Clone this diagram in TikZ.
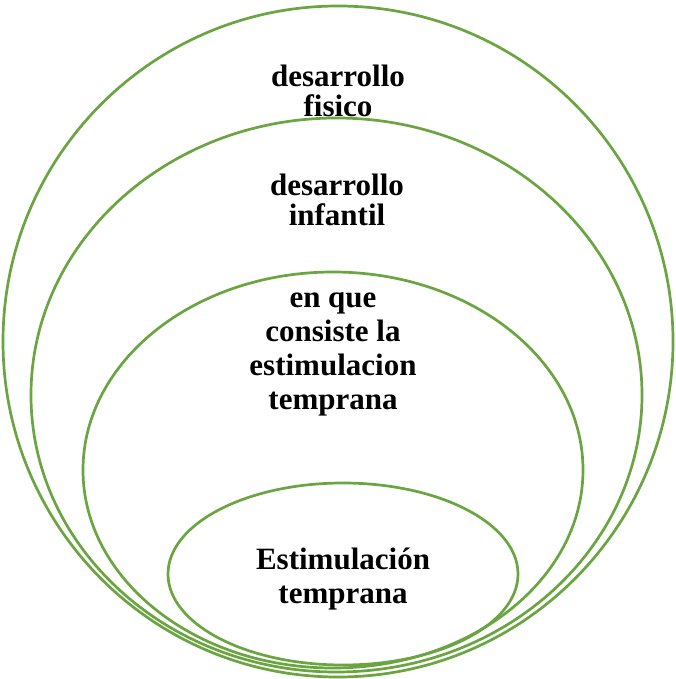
\documentclass[tikz,border=0pt]{standalone}
\usepackage{fontspec}
\setmainfont{Liberation Serif}
\usetikzlibrary{shapes.geometric}

\begin{document}
\begin{tikzpicture}[x=1pt, y=-1pt,
ring/.style = {shape = ellipse, draw = ringgreen, line width = 2.7pt, inner sep = 0pt},
tag/.style = {align = center, font = \fontsize{31}{34}\selectfont\bfseries, inner sep = 0pt},
tagtight/.style = {tag, font = \fontsize{31}{30}\selectfont\bfseries},
]
\definecolor{ringgreen}{RGB}{106,165,65}
\useasboundingbox (0,0) rectangle (675,679);

\node[ring, minimum width = 670pt, minimum height = 671pt] (R1) at (338, 341.5) {};
\node[ring, minimum width = 611pt, minimum height = 554pt] (R2) at (336.5, 395) {};
\node[ring, minimum width = 500pt, minimum height = 396pt] (R3) at (333, 470) {};
\node[ring, minimum width = 350pt, minimum height = 182pt] (R4) at (343, 574) {};

\node[tagtight] (T1) at (338, 91) {desarrollo\\fisico};
\node[tagtight] (T2) at (337, 200) {desarrollo\\infantil};
\node[tag] (T3) at (333, 354) {en que\\consiste la\\estimulacion\\temprana};
\node[tag] (T4) at (343, 579) {Estimulación\\temprana};
\end{tikzpicture}
\end{document}
